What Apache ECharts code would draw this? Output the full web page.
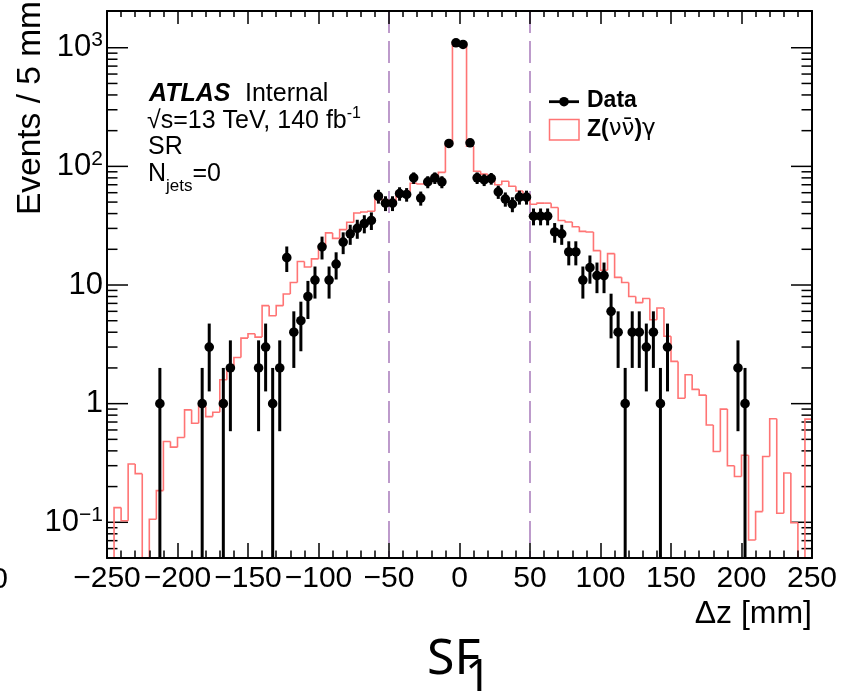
<!DOCTYPE html>
<html><head><meta charset="utf-8">
<script src="https://cdn.jsdelivr.net/npm/echarts@6/dist/echarts.min.js"></script>
<style>html,body{margin:0;padding:0;background:#fff}#c{width:842px;height:691px}</style>
</head><body><div id="c"></div>
<script>
// ---- data ----
// MC Z(vv)gamma prediction, 100 bins of 5 mm from -250 to 250 mm
const mcValues = [
  0, 0.133, 0.103, 0.31, 0.257, 0, 0.106, 0.185, 0.479, 0.43,
  0.518, 0.887, 0.684, 0.946, 0.778, 0.847, 1.59, 2.0, 2.45, 3.57,
  3.88, 3.64, 6.7, 5.5, 6.7, 8.4, 10.5, 15.8, 14.2, 16.6,
  21.2, 27.5, 24.7, 29.3, 33.8, 40.5, 41.3, 41.8, 56.7, 52,
  50, 61, 61, 72, 71, 72, 82, 89, 153, 1110,
  1100, 148, 91, 86, 79, 70, 75, 68, 62, 58,
  48, 49, 49, 45, 35, 34, 31, 28.3, 28, 19.5,
  13.3, 18.4, 11.6, 10.5, 8.0, 7.1, 7.7, 5.1, 6.4, 3.7,
  2.27, 1.11, 1.75, 1.32, 1.18, 0.66, 0.395, 0.90, 0.30, 0.243,
  0.367, 0.071, 0.123, 0.358, 0.745, 0.119, 0.26, 0.099, 0, 0.74
];
// Data: bin centres (mm) and event counts (non-empty bins only)
const dataZ = [
  -212.5, -182.5, -177.5, -167.5, -162.5, -142.5, -137.5, -132.5, -127.5, -122.5,
  -117.5, -112.5, -107.5, -102.5, -97.5, -92.5, -87.5, -82.5, -77.5, -72.5,
  -67.5, -62.5, -57.5, -52.5, -47.5, -42.5, -37.5, -32.5, -27.5, -22.5,
  -17.5, -12.5, -7.5, -2.5, 2.5, 7.5, 12.5, 17.5, 22.5, 27.5,
  32.5, 37.5, 42.5, 47.5, 52.5, 57.5, 62.5, 67.5, 72.5, 77.5,
  82.5, 87.5, 92.5, 97.5, 102.5, 107.5, 112.5, 117.5, 122.5, 127.5,
  132.5, 137.5, 142.5, 147.5, 197.5, 202.5
];
const dataCounts = [
  1, 1, 3, 1, 2, 2, 3, 1, 2, 17,
  4, 5, 8, 11, 21, 11, 15, 23, 27, 30,
  33, 35, 56, 49, 49, 59, 58, 80, 54, 74,
  80, 74, 156, 1100, 1066, 158, 80, 77, 79, 61,
  53, 48, 55, 55, 38, 38, 38, 28, 27, 19,
  19, 11, 14, 12, 12, 6, 4, 1, 4, 4,
  3, 4, 1, 3, 2, 1
];
const cutLines = [-50, 50];
const yMajorTicks = [0.1, 1, 10, 100, 1000];
const yMajorLabels = ['10{s|\u22121}', '1', '10', '10{s|2}', '10{s|3}'];
const yMinorTicks = [0.06, 0.07, 0.08, 0.09, 0.2, 0.3, 0.4, 0.5, 0.6, 0.7, 0.8, 0.9,
  2, 3, 4, 5, 6, 7, 8, 9, 20, 30, 40, 50, 60, 70, 80, 90,
  200, 300, 400, 500, 600, 700, 800, 900];

const X_MIN = -250, X_MAX = 250, BIN_W = 5, Y_MIN = 0.05, Y_MAX = 2040;
const FONT = '"Liberation Sans", Arial, Helvetica, sans-serif';
const MC_COLOR = '#ff7474';
const CUT_COLOR = '#ad82bf';

const clampY = v => Math.min(Math.max(v, Y_MIN), Y_MAX);

const mcSeriesData = mcValues.map((v, i) => [
  X_MIN + i * BIN_W, X_MIN + (i + 1) * BIN_W,
  clampY(i > 0 ? mcValues[i - 1] : 0), clampY(v), i === mcValues.length - 1 ? 1 : 0
]);
const dataSeriesData = dataZ.map((z, i) => {
  const n = dataCounts[i], e = Math.sqrt(n);
  return [z, n, clampY(n - e), clampY(n + e)];
});
const tickSeriesData = yMajorTicks.map(v => [X_MIN, v, 1]).concat(yMinorTicks.map(v => [X_MIN, v, 0]));

const chart = echarts.init(document.getElementById('c'), null, {renderer: 'canvas'});

const xAxisBase = {
  type: 'value', min: X_MIN, max: X_MAX, interval: 50, gridIndex: 0, z: 10,
  splitLine: {show: false},
  axisLine: {show: true, onZero: false, lineStyle: {color: '#000', width: 2}}
};
const yAxisBase = {
  type: 'log', logBase: 10, min: Y_MIN, max: Y_MAX, gridIndex: 0, z: 10,
  splitLine: {show: false}, axisTick: {show: false}, minorTick: {show: false},
  axisLine: {show: true, onZero: false, lineStyle: {color: '#000', width: 2}}
};

chart.setOption({
  animation: false,
  backgroundColor: '#fff',
  grid: {left: 107, right: 30, top: 11, bottom: 133, containLabel: false, outerBoundsMode: 'none'},
  xAxis: [
    Object.assign({}, xAxisBase, {
      position: 'bottom',
      axisTick: {show: true, inside: true, length: 15, lineStyle: {color: '#000', width: 1.5}},
      minorTick: {show: true, splitNumber: 5, length: 7.5, lineStyle: {color: '#000', width: 1.5}},
      axisLabel: {
        show: true, margin: 6, color: '#000', fontSize: 30, fontFamily: FONT,
        formatter: v => (v < 0 ? '\u2212' + Math.abs(v) : String(v))
      }
    }),
    Object.assign({}, xAxisBase, {
      position: 'top',
      axisTick: {show: true, inside: true, length: 13, lineStyle: {color: '#000', width: 1.5}},
      minorTick: {show: true, splitNumber: 5, length: 6, lineStyle: {color: '#000', width: 1.5}},
      axisLabel: {show: false}
    })
  ],
  yAxis: [
    Object.assign({}, yAxisBase, {
      position: 'left',
      axisLabel: {
        show: true, margin: 4, color: '#000', fontFamily: FONT,
        formatter: function (v) {
          for (let i = 0; i < yMajorTicks.length; i++) {
            if (Math.abs(Math.log10(v) - Math.log10(yMajorTicks[i])) < 1e-6) {
              return '{b|' + yMajorLabels[i].replace(/\{s\|/, '}{s|') + (yMajorLabels[i].indexOf('{s|') < 0 ? '}' : '');
            }
          }
          return '';
        },
        rich: {
          b: {fontSize: 31, fontFamily: FONT, color: '#000', lineHeight: 36},
          s: {fontSize: 21, fontFamily: FONT, color: '#000', lineHeight: 20, verticalAlign: 'top'}
        }
      }
    }),
    Object.assign({}, yAxisBase, {position: 'right', axisLabel: {show: false}})
  ],
  series: [
    {
      type: 'custom', name: 'yticks', coordinateSystem: 'cartesian2d', xAxisIndex: 0, yAxisIndex: 0,
      z: 1, silent: true, encode: {x: 0, y: 1},
      data: tickSeriesData,
      renderItem: function (params, api) {
        const v = api.value(1), major = api.value(2);
        const pL = api.coord([X_MIN, v]), pR = api.coord([X_MAX, v]);
        const len = major ? 21 : 10.5;
        const st = {stroke: '#000', lineWidth: 1.5};
        return {type: 'group', children: [
          {type: 'line', shape: {x1: pL[0], y1: pL[1], x2: pL[0] + len, y2: pL[1]}, style: st},
          {type: 'line', shape: {x1: pR[0], y1: pR[1], x2: pR[0] - len, y2: pR[1]}, style: st}
        ]};
      }
    },
    {
      type: 'custom', name: 'cuts', coordinateSystem: 'cartesian2d', z: 2, silent: true,
      encode: {x: 0, y: 1},
      data: cutLines.map(x => [x, Y_MIN]),
      renderItem: function (params, api) {
        const x = api.value(0);
        const p0 = api.coord([x, Y_MIN]), p1 = api.coord([x, Y_MAX]);
        return {type: 'line', shape: {x1: p0[0], y1: p1[1], x2: p0[0], y2: p0[1]},
          style: {stroke: CUT_COLOR, lineWidth: 1.6, lineDash: [22, 8]}};
      }
    },
    {
      type: 'custom', name: 'Z(vv)gamma', coordinateSystem: 'cartesian2d', z: 3, silent: true,
      encode: {x: [0, 1], y: 3},
      data: mcSeriesData,
      renderItem: function (params, api) {
        const lo = api.value(0), hi = api.value(1), prev = api.value(2), v = api.value(3), last = api.value(4);
        const pts = [api.coord([lo, prev]), api.coord([lo, v]), api.coord([hi, v])];
        if (last) pts.push(api.coord([hi, Y_MIN]));
        return {type: 'polyline', shape: {points: pts},
          style: {stroke: MC_COLOR, lineWidth: 1.6, fill: null}};
      }
    },
    {
      type: 'custom', name: 'Data', coordinateSystem: 'cartesian2d', z: 4, silent: true,
      encode: {x: 0, y: 1},
      data: dataSeriesData,
      renderItem: function (params, api) {
        const x = api.value(0), n = api.value(1), dn = api.value(2), up = api.value(3);
        const c = api.coord([x, n]), a = api.coord([x, dn]), b = api.coord([x, up]);
        return {type: 'group', children: [
          {type: 'line', shape: {x1: c[0], y1: a[1], x2: c[0], y2: b[1]}, style: {stroke: '#000', lineWidth: 3}},
          {type: 'circle', shape: {cx: c[0], cy: c[1], r: 4.8}, style: {fill: '#000'}}
        ]};
      }
    }
  ],
  graphic: [
    // ATLAS label
    {type: 'text', x: 149, y: 94, style: {text: 'ATLAS', fontSize: 25, fontWeight: 'bold', fontStyle: 'italic', fontFamily: FONT, fill: '#000', align: 'left', verticalAlign: 'middle', textAlign: 'left', textVerticalAlign: 'middle'}},
    {type: 'text', x: 245, y: 94, style: {text: 'Internal', fontSize: 25, fontFamily: FONT, fill: '#000', align: 'left', verticalAlign: 'middle', textAlign: 'left', textVerticalAlign: 'middle'}},
    {type: 'text', x: 147, y: 121, style: {text: '{m|\u221As=13 TeV, 140 fb}{s|-1}', align: 'left', verticalAlign: 'middle', textAlign: 'left', textVerticalAlign: 'middle',
      rich: {m: {fontSize: 25, fontFamily: FONT, fill: '#000', color: '#000', lineHeight: 30}, s: {fontSize: 16, fontFamily: FONT, color: '#000', fill: '#000', lineHeight: 16, verticalAlign: 'top'}}}},
    {type: 'text', x: 148, y: 147, style: {text: 'SR', fontSize: 25, fontFamily: FONT, fill: '#000', align: 'left', verticalAlign: 'middle', textAlign: 'left', textVerticalAlign: 'middle'}},
    {type: 'text', x: 148, y: 174, style: {text: '{m|N}{s|jets}{m|=0}', align: 'left', verticalAlign: 'middle', textAlign: 'left', textVerticalAlign: 'middle',
      rich: {m: {fontSize: 25, fontFamily: FONT, color: '#000', fill: '#000', lineHeight: 30}, s: {fontSize: 17, fontFamily: FONT, color: '#000', fill: '#000', lineHeight: 20, verticalAlign: 'bottom', padding: [0, 0, -6, 0]}}}},
    // legend
    {type: 'line', shape: {x1: 549, y1: 101.7, x2: 579, y2: 101.7}, style: {stroke: '#000', lineWidth: 2.8}},
    {type: 'circle', shape: {cx: 564, cy: 101.7, r: 4.8}, style: {fill: '#000'}},
    {type: 'rect', shape: {x: 549.5, y: 119.5, width: 29.5, height: 20.5}, style: {fill: null, stroke: MC_COLOR, lineWidth: 1.5}},
    {type: 'text', x: 587, y: 100.5, style: {text: 'Data', fontSize: 23, fontWeight: 'bold', fontFamily: FONT, fill: '#000', align: 'left', verticalAlign: 'middle', textAlign: 'left', textVerticalAlign: 'middle'}},
    {type: 'text', x: 587, y: 129.5, style: {text: '{b|Z(}{r|\u03BD\u03BD\u0304}{b|)}{r|\u03B3}', align: 'left', verticalAlign: 'middle', textAlign: 'left', textVerticalAlign: 'middle',
      rich: {b: {fontSize: 23, fontWeight: 'bold', fontFamily: FONT, color: '#000', fill: '#000'}, r: {fontSize: 23, fontFamily: '"DejaVu Sans", ' + FONT, color: '#000', fill: '#000'}}}},
    // axis titles
    {type: 'text', x: 31, y: 1, rotation: Math.PI / 2, style: {text: 'Events / 5 mm', fontSize: 33.5, fontFamily: FONT, fill: '#000', align: 'right', verticalAlign: 'middle', textAlign: 'right', textVerticalAlign: 'middle'}},
    {type: 'text', x: 812, y: 614, style: {text: '\u0394z [mm]', fontSize: 32, fontFamily: FONT, fill: '#000', align: 'right', verticalAlign: 'middle', textAlign: 'right', textVerticalAlign: 'middle'}},
    // panel caption and cut-off neighbour label
    {type: 'text', x: 427, y: 660, style: {text: 'SF', fontSize: 50, fontFamily: '"Noto Sans", "Open Sans", sans-serif', fill: '#000', align: 'left', verticalAlign: 'middle', textAlign: 'left', textVerticalAlign: 'middle'}},
    {type: 'text', x: 465, y: 679, style: {text: '1', fontSize: 46, fontFamily: '"Noto Sans", "Open Sans", sans-serif', fill: '#000', align: 'left', verticalAlign: 'middle', textAlign: 'left', textVerticalAlign: 'middle'}},
    {type: 'text', x: 8, y: 580, style: {text: '0', fontSize: 30, fontFamily: FONT, fill: '#000', align: 'right', verticalAlign: 'middle', textAlign: 'right', textVerticalAlign: 'middle'}}
  ]
});
</script>
</body></html>
